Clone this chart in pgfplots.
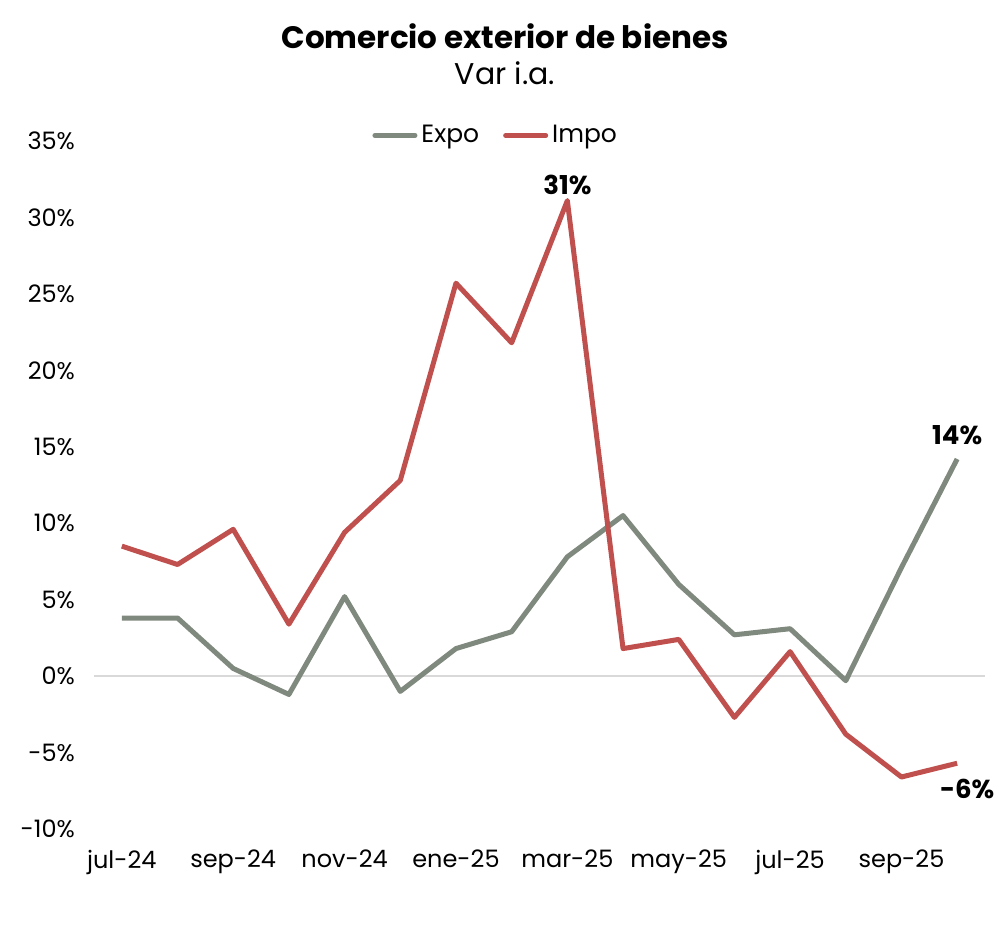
\documentclass[border=0pt]{standalone}
\usepackage{fontspec}
\setmainfont{Poppins}
\usepackage{pgfplots}
\pgfplotsset{compat=1.18}
\definecolor{expo}{HTML}{7F897D}
\definecolor{impo}{HTML}{C0504D}
\definecolor{zeroln}{HTML}{D9D9D9}

\begin{document}
\begin{tikzpicture}
\begin{axis}[
  scale only axis, width=445.5pt, height=344pt,
  xmin=-0.5, xmax=15.5, ymin=-10, ymax=35,
  axis line style={draw=none}, major tick length=0pt,
  xtick={0,2,...,14},
  xticklabels={jul-24,sep-24,nov-24,ene-25,mar-25,may-25,jul-25,sep-25},
  ytick={-10,-5,...,35},
  yticklabel={\pgfmathprintnumber{\tick}\%},
  /pgf/number format/assume math mode=true,
  tick label style={font=\fontsize{12}{14}\selectfont},
  yticklabel style={xshift=-6pt},
  xticklabel style={yshift=-7pt},
  clip=false,
  legend style={draw=none, fill=none, at={(0.452,1.008)}, anchor=center,
    legend columns=2, font=\fontsize{12.5}{14}\selectfont,
    /tikz/every even column/.append style={column sep=10pt}},
  legend image code/.code={\draw[#1, line width=2.5pt, line cap=round] (0pt,0pt) -- (20pt,0pt);},
]
\addplot[zeroln, line width=0.8pt, forget plot] coordinates {(-0.5,0) (15.5,0)};
\addplot[expo, line width=2.5pt, line join=round] coordinates {
(0,3.8) (1,3.8) (2,0.5) (3,-1.2) (4,5.2) (5,-1.0) (6,1.8) (7,2.9)
(8,7.8) (9,10.5) (10,6.0) (11,2.7) (12,3.1) (13,-0.3) (14,7.1) (15,14.2)};
\addlegendentry{Expo}
\addplot[impo, line width=2.5pt, line join=round] coordinates {
(0,8.5) (1,7.3) (2,9.6) (3,3.4) (4,9.4) (5,12.8) (6,25.7) (7,21.8)
(8,31.1) (9,1.8) (10,2.4) (11,-2.7) (12,1.6) (13,-3.8) (14,-6.6) (15,-5.7)};
\addlegendentry{Impo}
\node[font=\bfseries\fontsize{13}{15}\selectfont, anchor=south] at (axis cs:8,31.0) {31\%};
\node[font=\bfseries\fontsize{13}{15}\selectfont, anchor=south] at (axis cs:15,14.7) {14\%};
\node[font=\bfseries\fontsize{13}{15}\selectfont, anchor=north] at (axis cs:15.18,-6.3) {-6\%};
\end{axis}
\node[font=\bfseries\fontsize{15.5}{18}\selectfont] at ([xshift=205.5pt, yshift=52.5pt]current axis.north west) {Comercio exterior de bienes};
\node[font=\fontsize{15}{18}\selectfont] at ([xshift=205.5pt, yshift=34pt]current axis.north west) {Var i.a.};
\path[use as bounding box] ([xshift=-47pt, yshift=-58pt]current axis.south west) rectangle ([xshift=11.5pt, yshift=70.5pt]current axis.north east);
\end{tikzpicture}
\end{document}
